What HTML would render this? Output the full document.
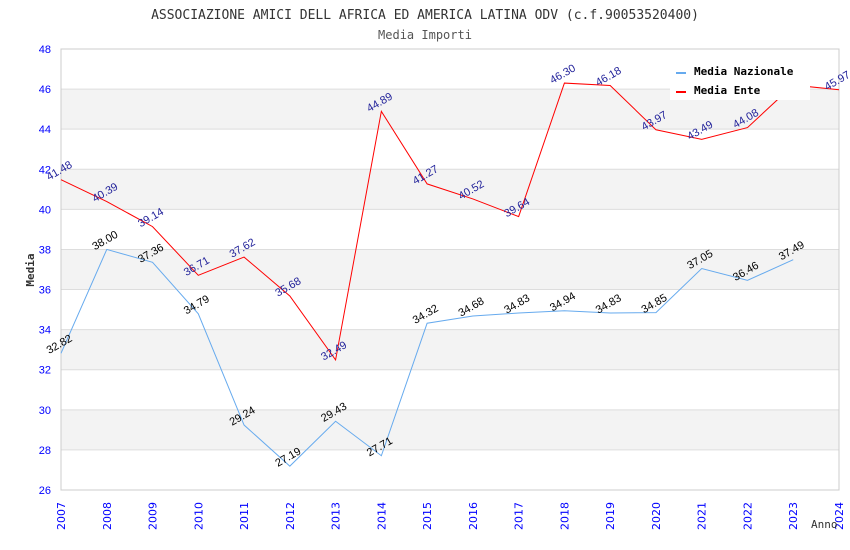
<!DOCTYPE html>
<html><head><meta charset="utf-8"><style>
body{margin:0;background:#fff}
svg{display:block;font-family:"DejaVu Sans Mono","Liberation Mono",monospace}
</style></head><body>
<svg id="c" width="850" height="550"></svg>
<script>
const years=[2007,2008,2009,2010,2011,2012,2013,2014,2015,2016,2017,2018,2019,2020,2021,2022,2023,2024];
const nazionale=[32.82,38.00,37.36,34.79,29.24,27.19,29.43,27.71,34.32,34.68,34.83,34.94,34.83,34.85,37.05,36.46,37.49];
const ente=[41.48,40.39,39.14,36.71,37.62,35.68,32.49,44.89,41.27,40.52,39.64,46.30,46.18,43.97,43.49,44.08,46.20,45.97];
const yTicks=[26,28,30,32,34,36,38,40,42,44,46,48];
const L=61,R=839,T=49,B=490;
const x=i=>L+(R-L)*i/(years.length-1);
const y=v=>B-(B-T)*(v-26)/22;
const NS='http://www.w3.org/2000/svg';
const svg=document.getElementById('c');
function mk(t,a,p){const e=document.createElementNS(NS,t);for(const k in a)e.setAttribute(k,a[k]);(p||svg).appendChild(e);return e;}
let e;
e=mk('text',{x:425,y:19,'text-anchor':'middle','font-size':13,fill:'#333'});e.textContent='ASSOCIAZIONE AMICI DELL AFRICA ED AMERICA LATINA ODV (c.f.90053520400)';


e=mk('text',{x:425,y:39,'text-anchor':'middle','font-size':12,fill:'#555'});e.textContent='Media Importi';


for(let i=0;i<yTicks.length-1;i++){
  if(i%2===1){const r=mk('rect',{x:L,y:y(yTicks[i+1]),width:R-L,height:y(yTicks[i])-y(yTicks[i+1]),fill:'#f3f3f3'});
  
  }
}
yTicks.forEach(v=>{
  const g=mk('line',{x1:L,x2:R,y1:y(v),y2:y(v),stroke:'#ddd'});
  
  
  const t=mk('text',{x:51,y:y(v)+4,'text-anchor':'end','font-size':11,fill:'#00f','font-family':'Liberation Sans,sans-serif'});t.textContent=v;
  
  
});
e=mk('rect',{x:L,y:T,width:R-L,height:B-T,fill:'none',stroke:'#ccc'});


years.forEach((yr,i)=>{
  const t=mk('text',{x:0,y:0,'text-anchor':'end','font-size':11,fill:'#00f','font-family':'DejaVu Sans,sans-serif',transform:`translate(${x(i)+4},${B+12}) rotate(-90)`});t.textContent=yr;
  
  
});
e=mk('text',{x:34,y:270,'text-anchor':'middle','font-size':11,'font-weight':'bold',fill:'#333',transform:'rotate(-90 34 270)'});e.textContent='Media';


e=mk('text',{x:811,y:528,'font-size':11,fill:'#333'});e.textContent='Anno';


function series(data,color,lc,name){
  const p=mk('polyline',{points:data.map((v,i)=>x(i)+','+y(v)).join(' '),fill:'none',stroke:color,'stroke-width':1});
  
  
  data.forEach((v,i)=>{
    const t=mk('text',{x:0,y:0,'text-anchor':'middle','font-size':11,fill:lc,'font-family':'Liberation Sans,sans-serif',transform:`translate(${x(i)},${y(v)-6}) rotate(-30)`});
    t.textContent=v.toFixed(2);
    
    
  });
}
series(nazionale,'#66aaee','#000','media-nazionale');
series(ente,'#f00','#22229a','media-ente');
e=mk('rect',{x:670,y:58,width:140,height:42,fill:'#fff'});


e=mk('rect',{x:676,y:72,width:10,height:2,fill:'#66aaee'});


e=mk('text',{x:694,y:75,'font-size':11,'font-weight':'bold',fill:'#000'});e.textContent='Media Nazionale';


e=mk('rect',{x:676,y:91,width:10,height:2,fill:'#f00'});


e=mk('text',{x:694,y:94,'font-size':11,'font-weight':'bold',fill:'#000'});e.textContent='Media Ente';


</script>
</body></html>
